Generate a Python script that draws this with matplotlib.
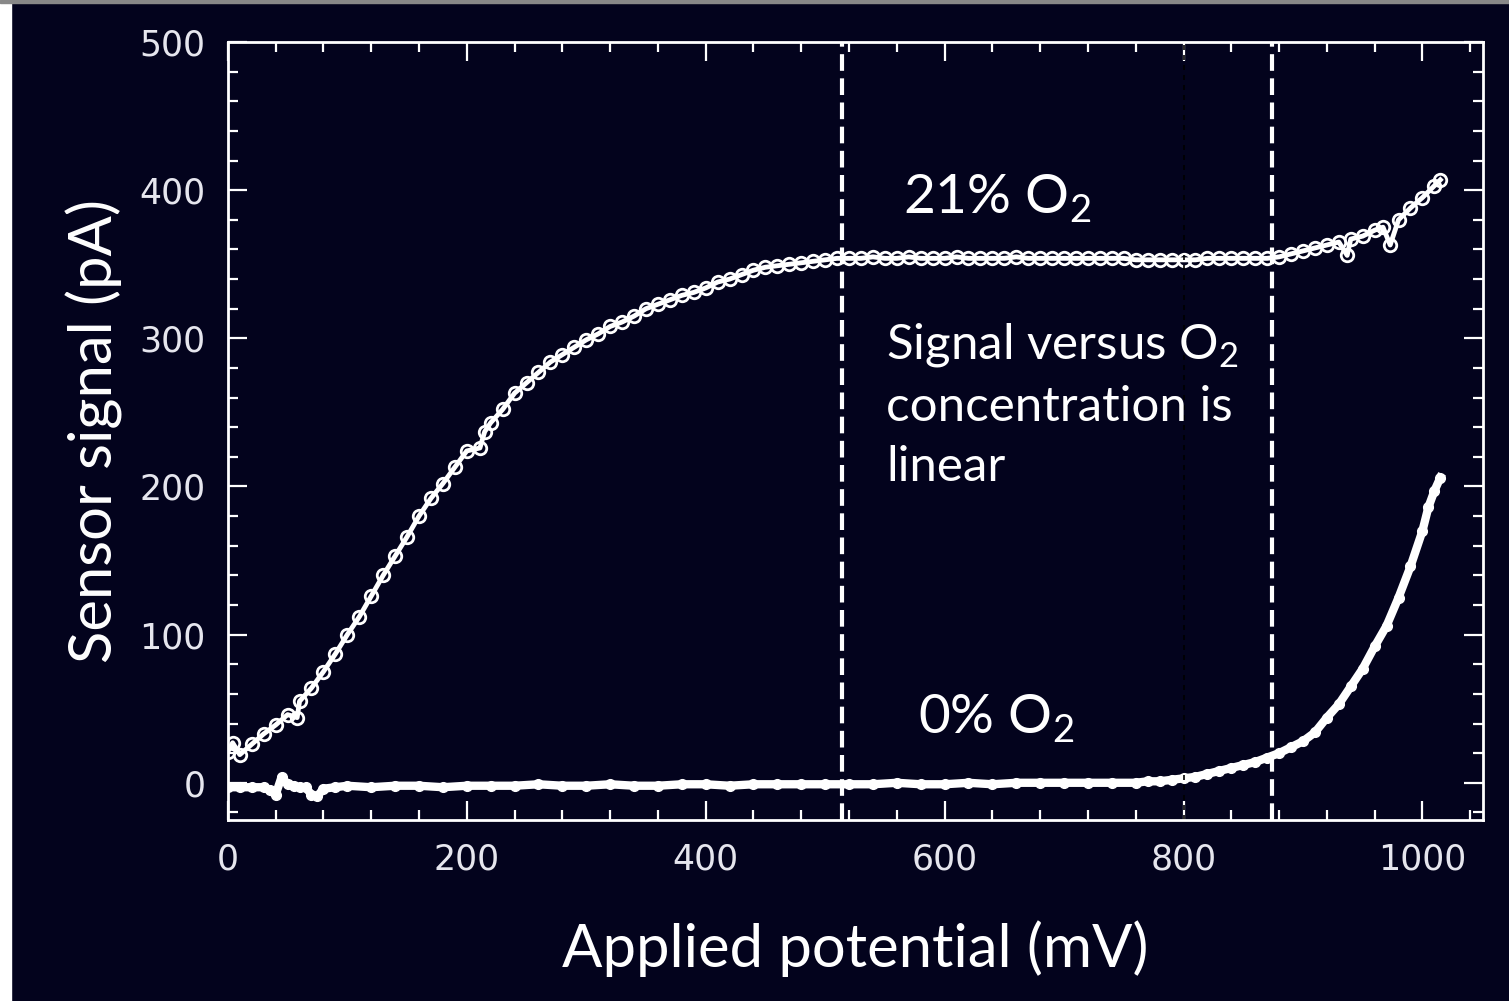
import numpy as np
import matplotlib.pyplot as plt
from matplotlib.patches import Rectangle

plt.rcParams['mathtext.fontset'] = 'custom'
plt.rcParams['mathtext.rm'] = 'Lato'

# 21% O2 curve (mV, pA)
x_21 = [0, 4, 10, 20, 30, 40, 50, 58, 60, 70, 80, 90, 100, 110, 120, 130, 140, 150,
        160, 170, 180, 190, 200, 211, 215, 220, 230, 240, 250, 260, 270, 280, 290,
        300, 310, 320, 330, 340, 350, 360, 370, 380, 390, 400, 410, 420, 430, 440,
        450, 460, 470, 480, 490, 500, 510, 520, 530, 540, 550, 560, 570, 580, 590,
        600, 610, 620, 630, 640, 650, 660, 670, 680, 690, 700, 710, 720, 730, 740,
        750, 760, 770, 780, 790, 800, 810, 820, 830, 840, 850, 860, 870, 880, 890,
        900, 910, 920, 930, 937, 940, 950, 960, 967, 973, 980, 990, 1000, 1010, 1015]
y_21 = [21, 27, 19, 26, 33, 39, 46, 44, 55, 64, 75, 87, 100, 112, 126, 140, 153, 166,
        180, 192, 202, 213, 224, 226, 237, 243, 252, 263, 270, 277, 284, 289, 294,
        299, 303, 308, 311, 315, 320, 323, 326, 329, 331, 334, 338, 340, 343, 346,
        348, 349, 350, 351, 352, 353, 354, 354, 354, 355, 354, 354, 355, 354, 354,
        354, 355, 354, 354, 354, 354, 355, 354, 354, 354, 354, 354, 354, 354, 354,
        354, 353, 353, 353, 353, 353, 353, 354, 354, 354, 354, 354, 354, 355, 357,
        359, 361, 363, 365, 356, 367, 369, 373, 375, 363, 380, 388, 395, 403, 407]

# 0% O2 curve
x_0 = [0, 10, 20, 30, 35, 40, 45, 50, 55, 60, 65, 70, 75, 80, 90, 100, 120, 140,
       160, 180, 200, 220, 240, 260, 280, 300, 320, 340, 360, 380, 400, 420, 440,
       460, 480, 500, 520, 540, 560, 580, 600, 620, 640, 660, 680, 700, 720, 740,
       760, 770, 780, 790, 800, 810, 820, 830, 840, 850, 860, 870, 880, 890, 900,
       910, 920, 930, 940, 950, 960, 970, 980, 990, 1000, 1005, 1010, 1015]
y_0 = [-3, -3, -3, -3, -5, -8, 4, -1, -2, -3, -3, -8, -9, -4, -3, -2, -3, -2,
       -2, -3, -2, -2, -2, -1, -2, -2, -1, -2, -2, -1, -1, -2, -1,
       -1, -1, -1, -1, -1, 0, -1, -1, 0, -1, 0, 0, 0, 0, 0,
       0, 1, 1, 2, 3, 4, 6, 8, 10, 12, 14, 17, 20, 24, 28,
       34, 44, 53, 65, 77, 92, 106, 125, 146, 170, 186, 197, 206]

dashed_x = [514, 874]
x_ticks = [0, 200, 400, 600, 800, 1000]
y_ticks = [0, 100, 200, 300, 400, 500]

bg = '#03031d'
fg = 'white'

fig = plt.figure(figsize=(15.09, 10.01), dpi=100, facecolor=bg)
ax = fig.add_axes([0.151, 0.181, 0.832, 0.777], facecolor=bg)

# curves
ax.plot(x_21, y_21, color=fg, lw=3.5, marker='o', ms=9, mfc='none', mec=fg, mew=2)
ax.plot(x_0, y_0, color=fg, lw=6, marker='o', ms=7, mfc=fg, mec=fg)

# region markers
for xv in dashed_x:
    ax.axvline(xv, color=fg, lw=3, dashes=(4, 1.8))
ax.axvline(800, color='black', lw=1.2, dashes=(3, 3))

ax.set_xlim(0, 1051)
ax.set_ylim(-25, 500)
ax.set_xticks(x_ticks)
ax.set_yticks(y_ticks)
ax.set_xticks(np.arange(0, 1051, 40), minor=True)
ax.set_yticks(np.arange(-20, 501, 20), minor=True)

for s in ax.spines.values():
    s.set_color(fg)
    s.set_linewidth(2)

ax.tick_params(which='both', direction='in', top=True, right=True, colors=fg,
               width=1.6)
ax.tick_params(which='major', length=14, labelsize=25, pad=16,
               labelcolor='#e6e6ee')
ax.tick_params(which='minor', length=7.5)
for lab in ax.get_xticklabels() + ax.get_yticklabels():
    lab.set_family('DejaVu Sans')

ax.set_xlabel('Applied potential (mV)', fontsize=43, color=fg, family='Lato',
              labelpad=32)
ax.set_ylabel('Sensor signal (pA)', fontsize=43, color=fg, family='Lato',
              labelpad=12)

ax.text(565, 395, '21% O$_2$', fontsize=39.5, color=fg, family='Lato',
        va='center', ha='left')
ax.text(578, 44, '0% O$_2$', fontsize=39.5, color=fg, family='Lato',
        va='center', ha='left')
ax.text(551, 312, 'Signal versus O$_2$\nconcentration is\nlinear', fontsize=35.5,
        color=fg, family='Lato', va='top', ha='left', linespacing=1.45)

# frame of the original slide
fig.patches.append(Rectangle((0, 0), 11 / 1509, 1, transform=fig.transFigure,
                             color='white', zorder=10))
fig.patches.append(Rectangle((0, 1 - 3 / 1001), 1, 3 / 1001, transform=fig.transFigure,
                             color='#888888', zorder=10))

fig.savefig('out.png', dpi=100, facecolor=bg)
